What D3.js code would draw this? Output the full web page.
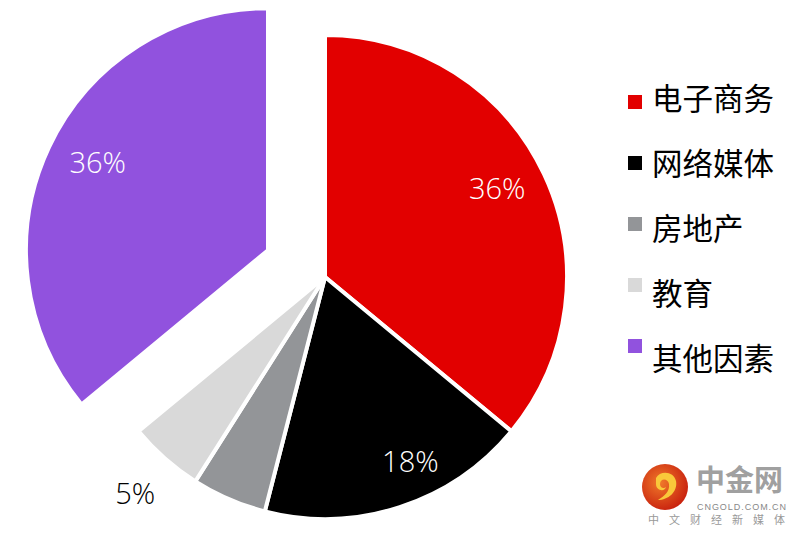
<!DOCTYPE html>
<html><head><meta charset="utf-8">
<script src="https://cdn.jsdelivr.net/npm/d3@7"></script>
<style>body{margin:0;background:#fff}svg{display:block}</style>
</head><body>
<script>
const categories = ["电子商务","网络媒体","房地产","教育","其他因素"];
const values = [36, 18, 5, 5, 36];
const labels = ["36%","18%","","5%","36%"];
const colors = ["#e20000","#000000","#939598","#d9d9d9","#9152de"];

const W = 801, H = 535;
const svg = d3.select("body").append("svg").attr("width", W).attr("height", H);

const cx = 325, cy = 277, R = 242;
const explode = [0, 0, 0, 0, 63];
// label radius and angle tweak (degrees) per slice
const labelR = [194, 202, 0, 287, 192];
const labelDA = [-2.2, -7, 0, 0, 2.3];

const pie = d3.pie().sort(null).value(d => d).startAngle(0).endAngle(2 * Math.PI);
const arcs = pie(values);
const arc = d3.arc().innerRadius(0).outerRadius(R);

const g = svg.append("g").attr("transform", `translate(${cx},${cy})`);

arcs.forEach((a, i) => {
  const mid = (a.startAngle + a.endAngle) / 2;
  const ox = Math.sin(mid) * explode[i], oy = -Math.cos(mid) * explode[i];
  const sg = g.append("g").attr("transform", `translate(${ox},${oy})`);
  sg.append("path").attr("d", arc(a)).attr("fill", colors[i])
    .attr("stroke", "#fff").attr("stroke-width", 4).attr("stroke-linejoin", "miter");
  if (labels[i]) {
    const la = mid + labelDA[i] * Math.PI / 180;
    const lx = Math.sin(la) * labelR[i], ly = -Math.cos(la) * labelR[i];
    sg.append("text").attr("x", lx).attr("y", ly)
      .attr("text-anchor", "middle").attr("dominant-baseline", "central")
      .attr("font-family", "'Open Sans', 'Noto Sans', sans-serif")
      .attr("font-size", 29).attr("font-weight", 300)
      .attr("fill", i === 3 ? "#000" : "#fff")
      .text(labels[i]);
  }
});

// Legend
const swatchY = d3.scalePoint().domain(categories).range([102, 346]);
const textY = d3.scalePoint().domain(categories).range([97, 357]);
const lg = svg.append("g");
categories.forEach((c, i) => {
  lg.append("rect").attr("x", 628).attr("y", swatchY(c) - 7).attr("width", 14).attr("height", 14).attr("fill", colors[i]);
  lg.append("text").attr("x", 652).attr("y", textY(c))
    .attr("dominant-baseline", "central")
    .attr("font-family", "'Noto Sans CJK SC', sans-serif").attr("font-size", 30.5)
    .attr("fill", "#000").text(c);
});

// Watermark
const wm = svg.append("g");
const defs = svg.append("defs");
const grad = defs.append("radialGradient").attr("id", "lg1").attr("cx", "40%").attr("cy", "40%").attr("r", "65%");
grad.append("stop").attr("offset", "0%").attr("stop-color", "#f07a2a");
grad.append("stop").attr("offset", "100%").attr("stop-color", "#c8200e");
wm.append("circle").attr("cx", 665).attr("cy", 487).attr("r", 23).attr("fill", "url(#lg1)");
wm.append("path")
  .attr("d", "M656,478 C660,470 674,471 676,481 C678,492 668,500 658,500 C664,496 670,492 669,484 C668,478 660,478 660,484 C660,488 664,489 666,487 C665,492 656,491 656,484 Z")
  .attr("fill", "#f9c93a");
wm.append("text").attr("x", 696).attr("y", 491)
  .attr("font-family", "'Noto Sans CJK SC', sans-serif").attr("font-size", 29).attr("font-weight", 700)
  .attr("fill", "#a0a0a0").text("中金网");
wm.append("text").attr("x", 697).attr("y", 509.5)
  .attr("font-family", "Arial, 'Liberation Sans', sans-serif").attr("font-size", 9)
  .attr("fill", "#888").attr("textLength", 89).text("CNGOLD.COM.CN");
wm.append("text").attr("x", 648).attr("y", 523.5)
  .attr("font-family", "'Noto Sans CJK SC', sans-serif").attr("font-size", 11)
  .attr("fill", "#999").attr("textLength", 137).text("中文财经新媒体");
</script>
</body></html>
